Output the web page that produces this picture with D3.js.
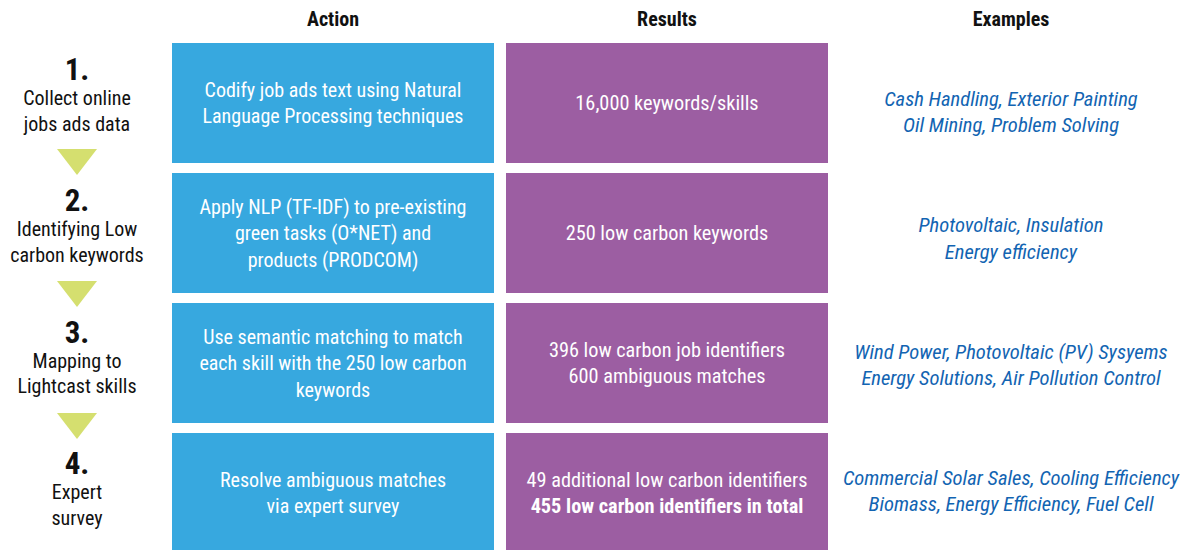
<!DOCTYPE html>
<html>
<head>
<meta charset="utf-8">
<script src="https://cdn.jsdelivr.net/npm/d3@7"></script>
<style>
  body { margin: 0; background: #fff; }
  svg { display: block; font-family: "Roboto Condensed", "Liberation Sans Narrow", sans-serif; }
</style>
</head>
<body>
<script>
// column headers
const headers = ["Action", "Results", "Examples"];

// step numbers and labels (left column)
const stepNums = ["1.", "2.", "3.", "4."];
const stepLabels = [
  ["Collect online", "jobs ads data"],
  ["Identifying Low", "carbon keywords"],
  ["Mapping to", "Lightcast skills"],
  ["Expert", "survey"]
];

// box contents
const actions = [
  ["Codify job ads text using Natural", "Language Processing techniques"],
  ["Apply NLP (TF-IDF) to pre-existing", "green tasks (O*NET) and", "products (PRODCOM)"],
  ["Use semantic matching to match", "each skill with the 250 low carbon", "keywords"],
  ["Resolve ambiguous matches", "via expert survey"]
];
const results = [
  ["16,000 keywords/skills"],
  ["250 low carbon keywords"],
  ["396 low carbon job identifiers", "600 ambiguous matches"],
  ["49 additional low carbon identifiers", "455 low carbon identifiers in total"]
];
const resultBold = [[false], [false], [false, false], [false, true]];
const examples = [
  ["Cash Handling, Exterior Painting", "Oil Mining, Problem Solving"],
  ["Photovoltaic, Insulation", "Energy efficiency"],
  ["Wind Power, Photovoltaic (PV) Sysyems", "Energy Solutions, Air Pollution Control"],
  ["Commercial Solar Sales, Cooling Efficiency", "Biomass, Energy Efficiency, Fuel Cell"]
];

const W = 1186, H = 550;
const blue = "#37a8df", purple = "#9c5ea2", olive = "#d5df6f", exBlue = "#1264b2";

const svg = d3.select("body").append("svg")
  .attr("width", W).attr("height", H);

const rows = d3.range(4);
const y = d3.scaleBand().domain(rows).range([38, 558])
  .paddingInner(10 / 130).paddingOuter(5 / 130);

const x = d3.scaleBand().domain(["Action", "Results"]).range([166, 834])
  .paddingInner(12 / 334).paddingOuter(6 / 334);
const xCenter = { Action: x("Action") + x.bandwidth() / 2, Results: x("Results") + x.bandwidth() / 2, Examples: 1011 };
const stepX = 77;
const lineH = 26.5;
const fs = 20;

// examples column sits a bit lower than the boxes
const exY = d3.scaleLinear().domain([0, 3]).range([112, 491]);

// headers
svg.append("g").selectAll("text")
  .data(headers)
  .join("text")
  .attr("x", d => xCenter[d])
  .attr("y", 26)
  .attr("text-anchor", "middle")
  .attr("font-weight", "bold")
  .attr("font-size", fs)
  .attr("fill", "#111")
  .text(d => d);

// boxes
const boxCols = [
  { key: "Action", fill: blue },
  { key: "Results", fill: purple }
];
boxCols.forEach(col => {
  svg.append("g").selectAll("rect")
    .data(rows)
    .join("rect")
    .attr("x", x(col.key))
    .attr("y", d => y(d))
    .attr("width", x.bandwidth())
    .attr("height", y.bandwidth())
    .attr("fill", col.fill);
});

function lines(g, arr, cx, cy, attrs) {
  const n = arr.length;
  arr.forEach((t, i) => {
    const el = g.append("text")
      .attr("x", cx)
      .attr("y", cy + (i - (n - 1) / 2) * lineH)
      .attr("dy", "0.35em")
      .attr("text-anchor", "middle")
      .text(t);
    Object.entries(attrs(i)).forEach(([k, v]) => el.attr(k, v));
  });
}

rows.forEach(r => {
  const cy = y(r) + 60;
  lines(svg, actions[r], xCenter.Action, cy, () => ({ fill: "#fff", "font-size": fs }));
  lines(svg, results[r], xCenter.Results, cy, i => ({ fill: "#fff", "font-size": 20.3, "font-weight": resultBold[r][i] ? "bold" : "normal" }));
  lines(svg, examples[r], xCenter.Examples, exY(r), () => ({ fill: exBlue, "font-size": 20.6, "font-style": "italic" }));
});

// step labels
const stepTop = d3.scaleLinear().domain([0, 3]).range([80, 474]);
rows.forEach(r => {
  const g = svg.append("g");
  g.append("text")
    .attr("x", stepX).attr("y", stepTop(r))
    .attr("text-anchor", "middle")
    .attr("font-weight", "bold").attr("font-size", 31)
    .attr("fill", "#111")
    .text(stepNums[r]);
  stepLabels[r].forEach((t, i) => {
    g.append("text")
      .attr("x", stepX).attr("y", stepTop(r) + 25 + i * 25.5)
      .attr("text-anchor", "middle")
      .attr("font-size", fs)
      .attr("fill", "#111")
      .text(t);
  });
});

// down arrows between steps
const triTop = d3.scaleLinear().domain([0, 2]).range([149, 413]);
svg.append("g").selectAll("path")
  .data([0, 1, 2])
  .join("path")
  .attr("d", d => {
    const t = triTop(d);
    return `M${stepX - 20},${t} L${stepX + 20},${t} L${stepX},${t + 26} Z`;
  })
  .attr("fill", olive);
</script>
</body>
</html>
